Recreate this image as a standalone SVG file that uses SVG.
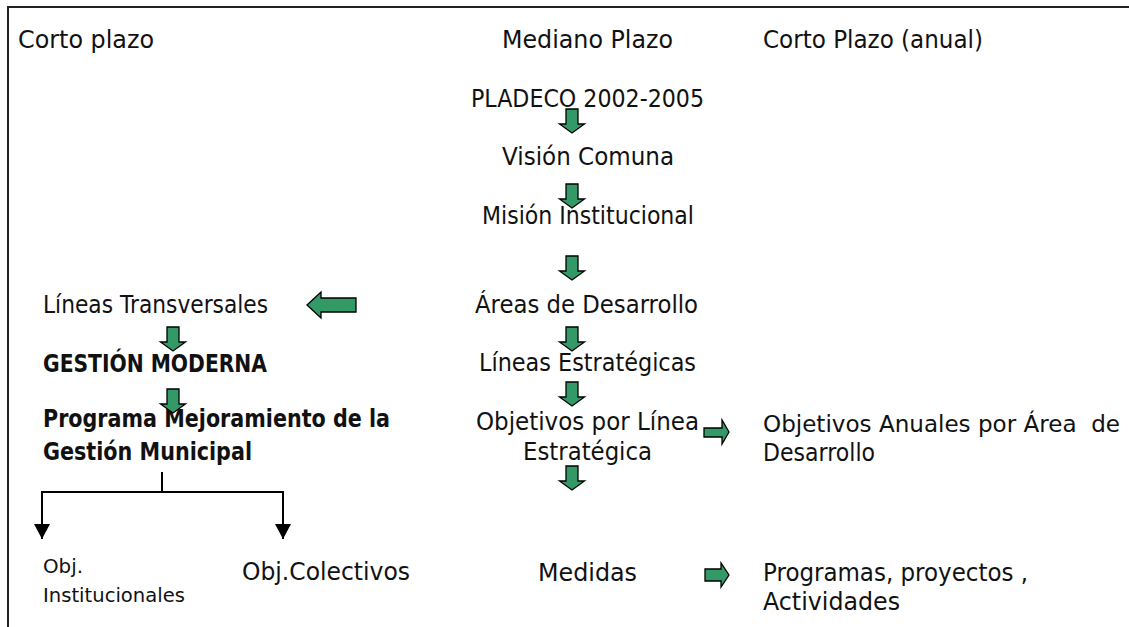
<svg xmlns="http://www.w3.org/2000/svg" width="1129" height="627" viewBox="0 0 1129 627">
<style>
.t{font-family:"DejaVu Sans","Liberation Sans",sans-serif;font-size:24px;fill:#111}
.b{font-weight:bold}
.s{font-size:20px}
.ga{fill:#339966;stroke:#000;stroke-width:1.3;stroke-linejoin:miter}
.ln{fill:none;stroke:#000;stroke-width:2}
.frame{fill:none;stroke:#222;stroke-width:2}
</style>
<defs>
<path id="down" d="M-6,0 H6 V15 H12.5 L0,24 L-12.5,15 H-6 Z"/>
<marker id="tri" viewBox="0 0 15 16" refX="15" refY="8" markerWidth="15" markerHeight="16" markerUnits="userSpaceOnUse" orient="auto">
<path d="M0,0 L15,8 L0,16 Z" fill="#000"/>
</marker>
</defs>
<rect width="1129" height="627" fill="#fff"/>
<path class="frame" d="M8,627 V7 H1129"/>

<g id="hdr-corto"><text class="t" x="18" y="48" textLength="136" lengthAdjust="spacingAndGlyphs">Corto plazo</text></g>
<g id="hdr-mediano"><text class="t" x="502" y="48" textLength="171" lengthAdjust="spacingAndGlyphs">Mediano Plazo</text></g>
<g id="hdr-anual"><text class="t" x="763" y="48" textLength="220" lengthAdjust="spacingAndGlyphs">Corto Plazo (anual)</text></g>

<g id="pladeco"><text class="t" x="471" y="107" textLength="233" lengthAdjust="spacingAndGlyphs">PLADECO 2002-2005</text></g>
<g id="vision"><text class="t" x="502" y="165" textLength="172" lengthAdjust="spacingAndGlyphs">Visión Comuna</text></g>
<g id="mision"><text class="t" x="482" y="224" textLength="212" lengthAdjust="spacingAndGlyphs">Misión Institucional</text></g>
<g id="areas"><text class="t" x="475" y="313" textLength="223" lengthAdjust="spacingAndGlyphs">Áreas de Desarrollo</text></g>
<g id="lineas-estrategicas"><text class="t" x="479" y="371" textLength="217" lengthAdjust="spacingAndGlyphs">Líneas Estratégicas</text></g>
<g id="objetivos-linea">
<text class="t" x="476" y="430" textLength="223" lengthAdjust="spacingAndGlyphs">Objetivos por Línea</text>
<text class="t" x="523" y="460" textLength="129" lengthAdjust="spacingAndGlyphs">Estratégica</text>
</g>
<g id="objetivos-anuales">
<text class="t" x="763" y="432" font-size="22.5" style="font-size:22.5px;white-space:pre" textLength="357" lengthAdjust="spacingAndGlyphs" xml:space="preserve">Objetivos Anuales por Área  de</text>
<text class="t" x="763" y="461" textLength="112" lengthAdjust="spacingAndGlyphs">Desarrollo</text>
</g>
<g id="medidas"><text class="t" x="538" y="581" textLength="99" lengthAdjust="spacingAndGlyphs">Medidas</text></g>
<g id="programas">
<text class="t" x="763" y="581" textLength="265" lengthAdjust="spacingAndGlyphs">Programas, proyectos ,</text>
<text class="t" x="763" y="610" textLength="137" lengthAdjust="spacingAndGlyphs">Actividades</text>
</g>

<g id="lineas-transversales"><text class="t" x="43" y="313" textLength="225" lengthAdjust="spacingAndGlyphs">Líneas Transversales</text></g>
<g id="gestion-moderna"><text class="t b" x="43" y="372" textLength="224" lengthAdjust="spacingAndGlyphs">GESTIÓN MODERNA</text></g>
<g id="programa-mejoramiento">
<text class="t b" x="43" y="427" textLength="347" lengthAdjust="spacingAndGlyphs">Programa Mejoramiento de la</text>
<text class="t b" x="43" y="460" textLength="209" lengthAdjust="spacingAndGlyphs">Gestión Municipal</text>
</g>
<g id="obj-institucionales">
<text class="t s" x="43" y="573" textLength="40" lengthAdjust="spacingAndGlyphs">Obj.</text>
<text class="t s" x="43" y="602" textLength="142" lengthAdjust="spacingAndGlyphs">Institucionales</text>
</g>
<g id="obj-colectivos"><text class="t" x="242" y="580" textLength="168" lengthAdjust="spacingAndGlyphs">Obj.Colectivos</text></g>

<g id="connectors">
<use href="#down" class="ga" x="572" y="109"/>
<use href="#down" class="ga" x="572" y="184"/>
<use href="#down" class="ga" x="572" y="256"/>
<use href="#down" class="ga" x="572" y="327"/>
<use href="#down" class="ga" x="572" y="382"/>
<use href="#down" class="ga" x="572" y="466"/>
<use href="#down" class="ga" x="173" y="327"/>
<use href="#down" class="ga" x="173" y="389"/>
<path class="ga" d="M307,305 L321,292 V298 H356 V312 H321 V318 Z"/>
<path class="ga" d="M704,428 H722 V420 L729,432 L722,444 V437 H704 Z"/>
<path class="ga" d="M705,569 H721 V563 L729,575 L721,587 V581 H705 Z"/>
<path class="ln" d="M162,472 V492"/>
<path class="ln" d="M42,492 H283"/>
<path class="ln" d="M42,491 V539" marker-end="url(#tri)"/>
<path class="ln" d="M283,491 V539" marker-end="url(#tri)"/>
</g>
</svg>
